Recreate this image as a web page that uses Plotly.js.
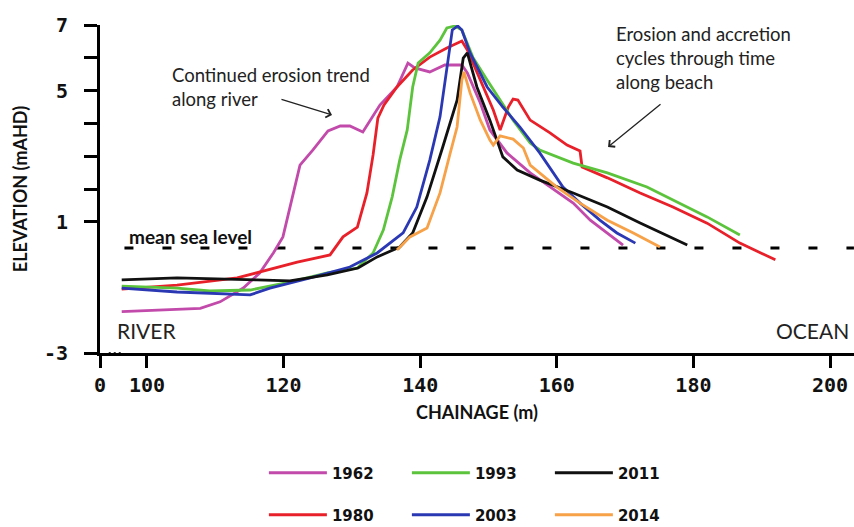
<!DOCTYPE html>
<html><head><meta charset="utf-8">
<script src="https://cdn.plot.ly/plotly-3.0.1.min.js"></script>
<style>html,body{margin:0;padding:0;background:#fff}</style>
</head><body><div id="chart" style="width:854px;height:527px"></div>
<script>
// ---- data ----
const years = ['1962', '1980', '1993', '2003', '2011', '2014'];
const lineColors = ['#c24aaa', '#e8202a', '#5cc43c', '#2b38b4', '#111111', '#f7a148'];

const x1962 = [96.3, 107.8, 110.7, 114.1, 116.5, 118.5, 119.9, 121.2, 122.4, 124.3, 126.5, 128.3, 129.7, 131.6, 134.1, 136.6, 138.2, 139.2, 141.4, 143.6, 146.1, 146.9, 148.8, 150.2, 152.7, 156.1, 159.0, 162.4, 164.9, 168.2, 169.7];
const y1962 = [-1.74, -1.64, -1.44, -1.02, -0.56, 0.05, 0.54, 1.66, 2.73, 3.19, 3.77, 3.92, 3.92, 3.74, 4.56, 5.11, 5.84, 5.69, 5.57, 5.78, 5.78, 5.54, 4.62, 3.80, 3.10, 2.49, 2.06, 1.57, 1.05, 0.54, 0.29];

const x1980 = [96.3, 104.4, 113.2, 116.5, 122.0, 126.8, 128.7, 130.8, 132.2, 133.1, 133.8, 134.7, 136.6, 138.9, 141.4, 143.9, 146.1, 146.9, 148.8, 150.7, 151.7, 152.9, 153.6, 154.3, 156.1, 159.0, 161.5, 163.4, 163.7, 167.4, 172.2, 177.0, 182.0, 186.8, 192.0];
const y1980 = [-1.05, -0.93, -0.71, -0.53, -0.23, -0.01, 0.54, 0.84, 1.88, 3.04, 4.16, 4.56, 5.11, 5.63, 6.02, 6.30, 6.51, 6.24, 5.32, 4.41, 3.80, 4.50, 4.74, 4.71, 4.10, 3.71, 3.34, 3.16, 2.67, 2.34, 1.88, 1.45, 0.96, 0.35, -0.16];

const x1993 = [96.3, 104.4, 109.2, 115.1, 120.9, 126.4, 130.8, 133.1, 134.6, 135.9, 137.0, 138.1, 138.9, 139.7, 141.4, 142.9, 143.9, 145.1, 146.1, 147.7, 149.8, 151.7, 153.6, 156.1, 157.5, 162.4, 167.4, 173.2, 177.0, 182.0, 186.8];
const y1993 = [-0.96, -1.02, -1.11, -1.08, -0.84, -0.56, -0.41, 0.05, 0.75, 1.76, 2.88, 3.80, 5.11, 5.84, 6.15, 6.54, 6.91, 6.97, 6.85, 6.02, 5.32, 4.71, 4.10, 3.40, 3.19, 2.79, 2.49, 2.06, 1.66, 1.15, 0.60];

const x2003 = [96.3, 104.4, 115.1, 118.0, 123.9, 129.7, 133.7, 137.5, 139.5, 141.4, 142.9, 143.9, 144.7, 145.5, 146.1, 147.3, 149.8, 152.1, 154.6, 157.5, 160.9, 163.4, 166.3, 168.8, 171.5];
const y2003 = [-1.02, -1.14, -1.23, -1.02, -0.71, -0.38, 0.05, 0.66, 1.45, 2.88, 4.20, 5.63, 6.85, 6.97, 6.85, 6.15, 5.11, 4.50, 3.89, 3.10, 2.06, 1.57, 1.05, 0.66, 0.35];

const x2011 = [96.3, 104.4, 116.1, 120.9, 126.4, 130.9, 133.7, 137.0, 138.9, 141.0, 143.3, 145.4, 146.3, 146.9, 148.3, 150.2, 152.1, 154.2, 157.5, 162.4, 167.4, 172.2, 179.1];
const y2011 = [-0.77, -0.71, -0.77, -0.80, -0.62, -0.41, -0.07, 0.23, 0.66, 1.76, 3.28, 4.71, 5.99, 6.15, 5.11, 4.10, 2.98, 2.58, 2.27, 1.88, 1.45, 0.96, 0.29];

const x2014 = [136.6, 138.5, 141.0, 142.9, 144.4, 145.4, 146.1, 146.4, 147.3, 148.8, 150.2, 150.7, 151.7, 153.6, 155.1, 156.1, 160.0, 163.4, 167.4, 171.2, 175.1];
const y2014 = [0.14, 0.54, 0.81, 1.88, 3.10, 3.89, 5.32, 5.57, 4.93, 4.10, 3.49, 3.34, 3.62, 3.52, 3.25, 2.73, 2.06, 1.57, 1.05, 0.66, 0.23];

const meanSeaLevel = 0.2;
const seaLevelX = [96.7, 203.5];

const xRange = [93.12, 203.51];
const xTickVals = [93.12, 100, 120, 140, 160, 180, 200];
const xTickText = ['0', '100', '120', '140', '160', '180', '200'];
const yRange = [-3, 7];
const yTickVals = [7, 6, 5, 4, 3, 2, 1, -3];
const yTickText = ['7', '', '5', '', '', '', '1', '-3'];
const axisBreak = [94.4, 96.2];   // broken-axis gap between 0 and 100

const seriesX = [x1962, x1980, x1993, x2003, x2011, x2014];
const seriesY = [y1962, y1980, y1993, y2003, y2011, y2014];
const legendOf = ['legend', 'legend2', 'legend', 'legend2', 'legend', 'legend2'];

// ---- traces ----
const traces = [];
traces.push({
  x: seaLevelX, y: [meanSeaLevel, meanSeaLevel], mode: 'lines', showlegend: false,
  line: {color: '#000', width: 3, dash: '9px,29px'}, hoverinfo: 'skip'
});
years.forEach((yr, i) => {
  traces.push({
    x: seriesX[i], y: seriesY[i], mode: 'lines', name: yr,
    legend: legendOf[i],
    line: {color: lineColors[i], width: 2.8}
  });
});

const labelFont = {family: 'Lato, "DejaVu Sans", sans-serif', size: 18.5, color: '#222'};
const legendFont = {family: '"DejaVu Sans", sans-serif', size: 15, color: '#111', weight: 'bold'};

const layout = {
  width: 854, height: 527,
  margin: {l: 100, r: 0, t: 25, b: 174, pad: 0, autoexpand: false},
  paper_bgcolor: '#fff', plot_bgcolor: '#fff',
  showlegend: true,
  xaxis: {
    range: xRange, tickmode: 'array', tickvals: xTickVals, ticktext: xTickText,
    showline: true, linewidth: 3, linecolor: '#000', showgrid: false, zeroline: false,
    ticks: 'outside', ticklen: 12, tickwidth: 3, tickcolor: '#000',
    tickfont: {family: '"DejaVu Sans Mono", monospace', size: 20, color: '#111', weight: 'bold'},
    title: {text: 'CHAINAGE (m)', standoff: 11,
      font: {family: 'Lato, sans-serif', size: 18, color: '#111', weight: 'bold'}}
  },
  yaxis: {
    range: yRange, tickmode: 'array', tickvals: yTickVals, ticktext: yTickText,
    showline: true, linewidth: 3, linecolor: '#000', showgrid: false, zeroline: false,
    ticks: 'outside', ticklen: 13, tickwidth: 3, tickcolor: '#000',
    tickfont: {family: '"DejaVu Sans Mono", monospace', size: 20, color: '#111', weight: 'bold'},
    ticklabelstandoff: 12,
    title: {text: 'ELEVATION (mAHD)', standoff: 12,
      font: {family: 'Lato, sans-serif', size: 18, color: '#111', weight: 'bold'}}
  },
  yaxis2: {
    range: yRange, overlaying: 'y', anchor: 'x', side: 'left',
    tickmode: 'array', tickvals: [7], ticks: 'inside', ticklen: 9, tickwidth: 3, tickcolor: '#000',
    showticklabels: false, showline: false, showgrid: false, zeroline: false
  },
  legend: {
    orientation: 'h', xref: 'container', yref: 'container',
    x: 0.309, xanchor: 'left', y: 0.1025, yanchor: 'middle',
    font: legendFont, entrywidth: 70, entrywidthmode: 'pixels', itemwidth: 58,
    bgcolor: 'rgba(0,0,0,0)'
  },
  legend2: {
    orientation: 'h', xref: 'container', yref: 'container',
    x: 0.309, xanchor: 'left', y: 0.0228, yanchor: 'middle',
    font: legendFont, entrywidth: 70, entrywidthmode: 'pixels', itemwidth: 58,
    bgcolor: 'rgba(0,0,0,0)'
  },
  shapes: [
    {type: 'line', xref: 'x', yref: 'y', x0: axisBreak[0], x1: axisBreak[1], y0: yRange[0], y1: yRange[0],
     line: {color: '#fff', width: 5}, layer: 'above'},
    {type: 'line', xref: 'x', yref: 'y', x0: axisBreak[0], x1: axisBreak[1], y0: yRange[0], y1: yRange[0],
     line: {color: '#333', width: 2, dash: '2px,3px'}, layer: 'above'}
  ],
  annotations: [
    {x: 103.4, y: 5.125, xref: 'x', yref: 'y', xanchor: 'left', yanchor: 'middle', align: 'left',
     text: 'Continued erosion trend<br>along river', showarrow: false, font: labelFont},
    {x: 127.09, y: 4.256, ax: 119.47, ay: 4.744, axref: 'x', ayref: 'y', xref: 'x', yref: 'y',
     text: '', showarrow: true, arrowhead: 4, arrowsize: 1.3, arrowwidth: 1.3, arrowcolor: '#222'},
    {x: 168.4, y: 6.0, xref: 'x', yref: 'y', xanchor: 'left', yanchor: 'middle', align: 'left',
     text: 'Erosion and accretion<br>cycles through time<br>along beach', showarrow: false, font: labelFont},
    {x: 167.5, y: 3.28, ax: 175.4, ay: 4.62, axref: 'x', ayref: 'y', xref: 'x', yref: 'y',
     text: '', showarrow: true, arrowhead: 4, arrowsize: 1.3, arrowwidth: 1.3, arrowcolor: '#222'},
    {x: 106.44, y: 0.54, xref: 'x', yref: 'y', xanchor: 'center', yanchor: 'middle',
     text: 'mean sea level', showarrow: false,
     font: {family: 'Lato, sans-serif', size: 19, color: '#111', weight: 'bold'}},
    {x: 95.3, y: -2.3, xref: 'x', yref: 'y', xanchor: 'left', yanchor: 'middle',
     text: 'RIVER', showarrow: false, font: {family: 'Lato, sans-serif', size: 21, color: '#222'}},
    {x: 203.1, y: -2.3, xref: 'x', yref: 'y', xanchor: 'right', yanchor: 'middle',
     text: 'OCEAN', showarrow: false, font: {family: 'Lato, sans-serif', size: 21, color: '#222'}}
  ]
};

Plotly.newPlot('chart', traces, layout, {displayModeBar: false, responsive: false});
</script>
</body></html>
